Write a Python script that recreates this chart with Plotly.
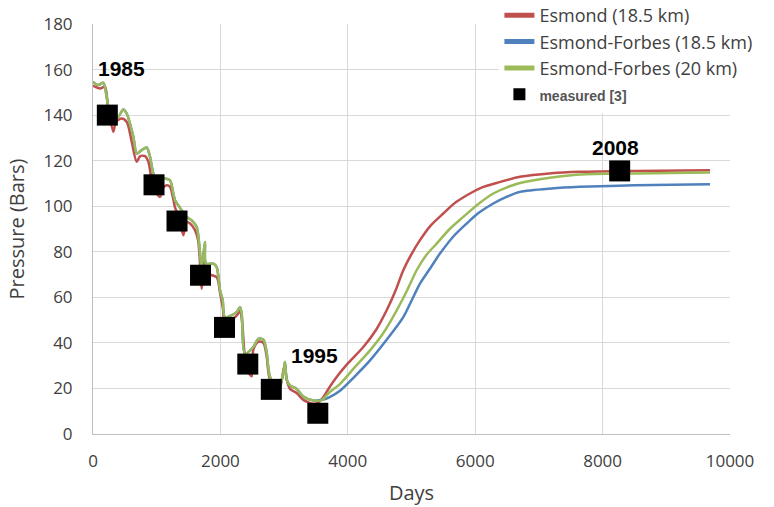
import plotly.graph_objects as go

# ---------------- data ----------------
red_days = [0, 110, 188, 230, 319, 360, 450, 530, 608, 686, 740, 817, 869, 950, 1052, 1100, 1156, 1209, 1261, 1287,
            1340, 1418, 1470, 1523, 1601, 1650, 1690, 1706, 1740, 1760, 1785, 1941, 1994, 2040, 2072, 2254, 2308, 2334,
            2386, 2420, 2491, 2517, 2596, 2674, 2721, 2779, 2883, 2936, 2990, 3014, 3040, 3093, 3198, 3301, 3485, 3600,
            3700, 3825, 4000, 4244, 4450, 4610, 4750, 4871, 5000, 5133, 5300, 5499, 5700, 5918, 6100, 6336, 6703,
            7200, 7645, 8500, 9686]
red_vals = [153, 151.7, 152.4, 145, 132.7, 137, 138.5, 137, 128.3, 119.5, 122, 122, 119.5, 108, 104.1, 108, 109.2, 108.5, 103, 99.5,
            96, 87.3, 93, 92.4, 89.5, 85, 70, 63.8, 80, 72, 70.4, 68.9, 62, 55, 48, 52, 54, 51,
            33, 28, 25.3, 37, 40.5, 40, 35, 23.5, 19.4, 20.5, 28, 30.5, 24, 19.8, 18, 15, 13.2, 15.5,
            20, 25, 31, 38.2, 46, 54.3, 63, 71.9, 79, 85.1, 91.5, 96.8, 101.8, 105.6, 108.2, 110.2, 112.9,
            114.5, 115.1, 115.5, 115.8]

green_days = [0, 83, 162, 215, 250, 300, 397, 476, 529, 633, 686, 764, 843, 895, 973, 1130, 1209, 1261, 1287, 1339,
              1470, 1549, 1628, 1706, 1758, 1774, 1889, 1941, 1994, 2036, 2072, 2254, 2308, 2334, 2386, 2517, 2596,
              2674, 2721, 2779, 2857, 2936, 3000, 3014, 3040, 3093, 3198, 3301, 3459, 3600,
              3700, 3878, 4100, 4349, 4550, 4768, 4930, 5081, 5230, 5395, 5600, 5813, 6050, 6284, 6500, 6703,
              7200, 7645, 8500, 9686]
green_vals = [154.6, 153.2, 154.2, 148, 142, 139, 139.3, 142.5, 140.7, 130.5, 123.2, 124.6, 125.8, 121.7, 112.9, 112.2, 111.4, 105.6, 102.6, 100.4,
              95.3, 93.8, 90.9, 73.3, 84.3, 74.8, 74.8, 73.3, 63.1, 58.7, 51.3, 53.5, 55.7, 52.8, 35.3, 38.2, 41.8,
              41.4, 36.7, 25, 22, 22, 29, 31.6, 24, 21.3, 19.8, 16.5, 14.7, 15,
              18, 22, 29, 36.7, 44, 54.3, 63, 71.9, 78.5, 83.6, 90, 95.3, 101, 105.6, 108.3, 110.2,
              112.6, 113.9, 114.4, 114.8]

blue_days = green_days[:50] + [3700, 3878, 4100, 4349, 4600, 4871, 5000, 5133, 5300, 5447, 5650, 5866, 6050, 6284,
                               6500, 6703, 7200, 7645, 8500, 9686]
blue_vals = green_vals[:50] + [16, 19, 25, 32.3, 41, 51.3, 58.5, 66, 73, 79.2, 86.5, 92.4, 97, 101.2,
                               104.2, 106.3, 107.8, 108.5, 109.2, 109.7]

measured_days = [225, 958, 1319, 1688, 2064, 2430, 2799, 3529, 8268]
measured_vals = [140, 109.4, 93.5, 69.7, 46.8, 30.7, 19.6, 9.1, 115.5]

year_labels = ["1985", "1995", "2008"]
year_days = [440, 3485, 8195]
year_vals = [160.6, 34.5, 126]

series_names = ["Esmond (18.5 km)", "Esmond-Forbes (18.5 km)", "Esmond-Forbes (20 km)"]
x_ticks = [0, 2000, 4000, 6000, 8000, 10000]
x_tick_text = ["0", "2000", "4000", "6000", "8000", "10000"]
y_ticks = [0, 20, 40, 60, 80, 100, 120, 140, 160, 180]

# ---------------- figure ----------------
FONT = "Open Sans"
fig = go.Figure()
fig.add_trace(go.Scatter(x=red_days, y=red_vals, mode="lines", name=series_names[0],
                         line=dict(color="#C0504D", width=2.5, shape="spline", smoothing=0.8)))
fig.add_trace(go.Scatter(x=blue_days, y=blue_vals, mode="lines", name=series_names[1],
                         line=dict(color="#4F81BD", width=2.5, shape="spline", smoothing=0.8)))
fig.add_trace(go.Scatter(x=green_days, y=green_vals, mode="lines", name=series_names[2],
                         line=dict(color="#9BBB59", width=2.5, shape="spline", smoothing=0.8)))
fig.add_trace(go.Scatter(x=measured_days, y=measured_vals, mode="markers",
                         name="<span style='font-family:Liberation Sans;font-size:14px;color:#555555'><b>measured [3]</b></span>",
                         marker=dict(symbol="square", size=21, color="black")))

for t, xd, yv in zip(year_labels, year_days, year_vals):
    fig.add_annotation(x=xd, y=yv, text="<b>%s</b>" % t, showarrow=False,
                       font=dict(family="Liberation Sans", size=21, color="black"))

fig.update_layout(
    width=774, height=507,
    margin=dict(l=93, r=44, t=24, b=73, autoexpand=False),
    paper_bgcolor="white", plot_bgcolor="white",
    font=dict(family=FONT, size=17, color="#404040"),
    showlegend=True,
    legend=dict(x=0.638, xanchor="left", y=1.066, yanchor="top", bgcolor="white",
                font=dict(family=FONT, size=18, color="#404040"), itemsizing="constant",
                tracegroupgap=0),
)
fig.update_xaxes(range=[0, 10000], tickvals=x_ticks, ticktext=x_tick_text, showgrid=True, gridcolor="#D9D9D9",
                 gridwidth=1, showline=True, linecolor="#BFBFBF", zeroline=False, ticks="", ticklabelstandoff=12,
                 title=dict(text="Days", standoff=14), mirror=False)
fig.update_yaxes(range=[0, 180], tickvals=y_ticks, showgrid=True, gridcolor="#D9D9D9", gridwidth=1,
                 showline=True, linecolor="#BFBFBF", zeroline=False, ticks="", ticklabelstandoff=16,
                 title=dict(text="Pressure (Bars)", standoff=13))

fig.write_html("out.html")
